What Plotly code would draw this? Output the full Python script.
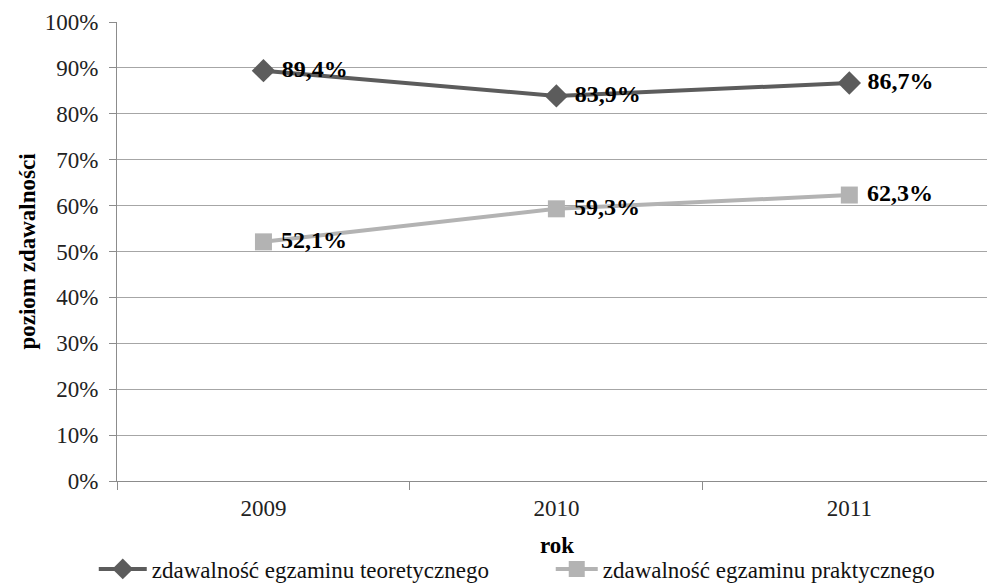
import plotly.graph_objects as go

# Pass rates of the driving exam by year
years = ["2009", "2010", "2011"]
theory = [0.894, 0.839, 0.867]
practice = [0.521, 0.593, 0.623]

y_ticks = [i / 10 for i in range(11)]
y_tick_text = [f"{i * 10}%" for i in range(11)]

serif = "Liberation Serif"
label_font = dict(family=serif, size=24, color="#000000")

fig = go.Figure()

fig.add_trace(go.Scatter(
    x=years, y=theory,
    name="zdawalność egzaminu teoretycznego",
    mode="lines+markers+text",
    line=dict(color="#5c5c5c", width=4),
    marker=dict(symbol="diamond", size=18, color="#5c5c5c"),
    texttemplate=" <b>%{y:.1%}</b>",
    textposition="middle right",
    textfont=label_font,
    legend="legend",
))

fig.add_trace(go.Scatter(
    x=years, y=practice,
    name="zdawalność egzaminu praktycznego",
    mode="lines+markers+text",
    line=dict(color="#b3b3b3", width=4),
    marker=dict(symbol="square", size=17, color="#b3b3b3"),
    texttemplate=" <b>%{y:.1%}</b>",
    textposition="middle right",
    textfont=label_font,
    legend="legend2",
))

legend_common = dict(
    orientation="h",
    xref="container", yref="container",
    yanchor="middle", xanchor="left",
    font=dict(family=serif, size=23, color="#111111"),
    bgcolor="rgba(0,0,0,0)",
)

fig.update_layout(
    width=987, height=583,
    margin=dict(l=117, r=0, t=22, b=102, autoexpand=False),
    paper_bgcolor="white",
    plot_bgcolor="white",
    separators=", ",
    font=dict(family=serif, size=23, color="#222222"),
    showlegend=True,
    legend=dict(legend_common, x=0.095, y=0.024, itemwidth=48),
    legend2=dict(legend_common, x=0.558, y=0.024, itemwidth=42),
)

# x-axis title placed below the year labels
fig.add_annotation(
    text="<b>rok</b>",
    xref="paper", yref="paper",
    x=0.506, y=0, yshift=-64,
    xanchor="center", yanchor="middle",
    showarrow=False,
    font=dict(family=serif, size=23, color="#000000"),
)

fig.update_xaxes(
    type="category",
    range=[-0.5, 2.47],
    automargin=True,
    showline=True, linecolor="#8c8c8c", linewidth=1,
    showgrid=False,
    ticks="outside", tickson="boundaries", ticklen=8, tickcolor="#8c8c8c",
    ticklabelstandoff=6,
    tickfont=dict(family=serif, size=23, color="#222222"),
)

fig.update_yaxes(
    range=[0, 1],
    automargin=True,
    tickvals=y_ticks, ticktext=y_tick_text,
    showline=True, linecolor="#8c8c8c", linewidth=1,
    showgrid=True, gridcolor="#a6a6a6", gridwidth=1,
    ticks="outside", ticklen=7, tickcolor="#8c8c8c",
    ticklabelstandoff=6,
    tickfont=dict(family=serif, size=23, color="#222222"),
    zeroline=False,
    title=dict(text="<b>poziom zdawalności</b>", font=dict(family=serif, size=23, color="#000000"), standoff=2),
)

fig.write_html("out.html")
